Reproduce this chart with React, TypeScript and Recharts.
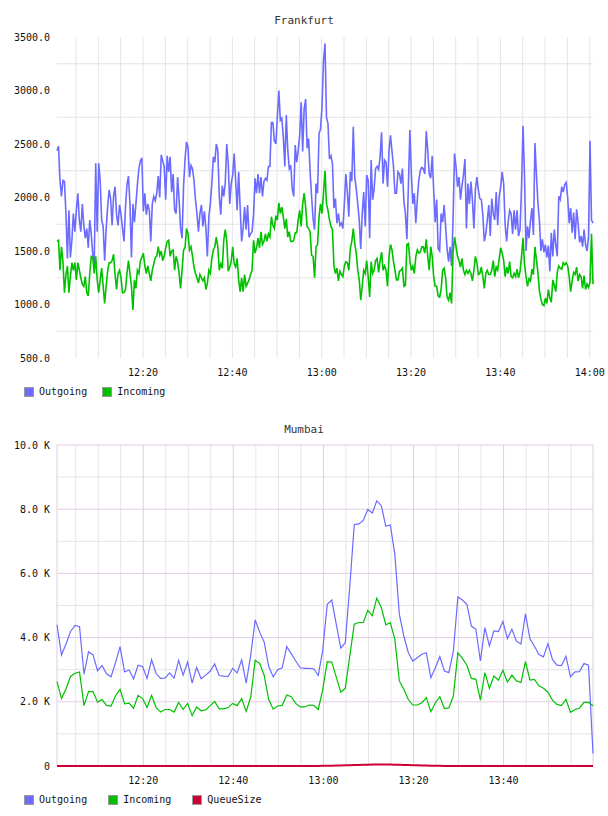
import React from 'react';
import { LineChart, Line, XAxis, YAxis, ReferenceLine } from 'recharts';

const FONT = '"DejaVu Sans Mono", monospace';
const OUT_COLOR = '#6b6bff';
const IN_COLOR = '#00c000';
const QUEUE_COLOR = '#cc0033';
const GRID = '#e4e4e4';
const GRID_MAJOR = '#e0cce4';

// Frankfurt: one sample every 20 s, minutes after 12:00
const FRANKFURT_START = 0.74;
const FRANKFURT_STEP = 1 / 3;

const FRANKFURT_OUTGOING = [
  // 12:00 - 12:25
  2440, 2480, 2160, 2010, 2160, 2150, 1850, 1430, 1880, 1440,
  1600, 1850, 1680, 1880, 2040, 1790, 1680, 1940, 1740, 1620,
  1710, 1530, 1790, 1660, 1470, 1380, 2320, 1680, 2320, 2160,
  1790, 1730, 1410, 1700, 1910, 2070, 1990, 1740, 2010, 2100,
  1840, 1740, 1930, 1840, 1710, 1590, 1910, 2120, 2200, 1940,
  1440, 1940, 1770, 1940, 2120, 2270, 2340, 2370, 1870, 2040,
  1840, 1940, 1880, 1590, 1940, 2010, 1970, 2040, 2200, 2000,
  2400, 2340, 2290,
  // 12:25 - 12:51
  1980, 2390, 2240, 2380, 2050, 2220, 1880, 1850, 2190, 1980,
  1710, 1620, 2100, 2360, 2520, 2470, 2190, 2300, 2270, 2160,
  1980, 1850, 1680, 1850, 1930, 1730, 1870, 1710, 1450, 1820,
  1940, 2130, 2380, 2330, 2500, 2440, 2010, 1840, 2110, 2010,
  2130, 2500, 2320, 1940, 2130, 2210, 2410, 2160, 1880, 2240,
  1910, 1590, 1710, 1910, 1700, 1930, 1630, 1660, 1680, 1840,
  2180, 2040, 2220, 2040, 2190, 2010, 2150, 2180, 2160, 2290,
  2290, 2700, 2700, 2530, 2500, 2750, 3000, 2720,
  // 12:51 - 13:17
  2740, 2570, 2290, 2770, 2440, 2270, 2300, 2080, 2010, 2490,
  2330, 2440, 2580, 2890, 2430, 2830, 2920, 2460, 2550, 2240,
  2010, 1800, 1700, 2130, 2040, 2600, 2640, 2850, 3280, 3440,
  2750, 2690, 2360, 2390, 2320, 1900, 1990, 1760, 1850, 1740,
  1760, 1710, 1940, 2220, 2050, 1820, 2240, 2150, 2660, 2190,
  2080, 1940, 1790, 1520, 1850, 2050, 1730, 2210, 2160, 1620,
  2350, 1980, 2080, 2270, 2290, 2260, 2380, 2610, 2130, 2350,
  2330, 2100, 2440, 2580, 2430, 2290, 2040, 2040,
  // 13:17 - 13:43
  2240, 2220, 2130, 2270, 1960, 1850, 1610, 2100, 2630, 2220,
  1940, 2040, 1760, 1980, 2160, 2250, 2280, 2270, 2220, 2620,
  2440, 2220, 2180, 2390, 2070, 1770, 1980, 1520, 1500, 1850,
  1770, 1930, 1730, 1520, 1400, 1540, 1360, 1790, 2410, 2290,
  2100, 2190, 1980, 2110, 2210, 2360, 1710, 2130, 1940, 2150,
  1980, 1710, 2070, 2190, 2070, 1990, 1980, 1840, 1590, 1660,
  1790, 1930, 1640, 1990, 1850, 1790, 2050, 1740, 2010, 2100,
  2240, 2130, 1740, 1590, 1770, 1880, 1850, 1660,
  // 13:43 - 14:00
  1880, 1700, 1880, 1640, 1700, 2100, 2670, 2200, 1500, 1730,
  1620, 1780, 1900, 1650, 2510, 2220, 1950, 1790, 1500, 1610,
  1490, 1560, 1440, 1550, 1310, 1670, 1450, 1700, 1560, 1450,
  2010, 1980, 2100, 2050, 2120, 2140, 2000, 1760, 1900, 1670,
  1860, 1610, 1890, 1760, 1580, 1640, 1540, 1700, 1560, 1500,
  1640, 2530, 1790, 1760,
];

const FRANKFURT_INCOMING = [
  // 12:00 - 12:25
  1590, 1600, 1320, 1540, 1400, 1110, 1280, 1360, 1110, 1260,
  1390, 1320, 1390, 1230, 1390, 1320, 1250, 1190, 1170, 1260,
  1110, 1080, 1290, 1450, 1440, 1290, 1450, 1230, 1110, 1230,
  1340, 1170, 1010, 1170, 1310, 1390, 1390, 1410, 1470, 1280,
  1140, 1290, 1320, 1250, 1110, 1110, 1140, 1290, 1410, 1290,
  1170, 950, 1230, 1150, 1320, 1290, 1410, 1440, 1480, 1360,
  1290, 1360, 1290, 1220, 1320, 1380, 1440, 1450, 1540, 1460,
  1500, 1410, 1450,
  // 12:25 - 12:51
  1530, 1590, 1600, 1450, 1500, 1510, 1320, 1450, 1400, 1290,
  1150, 1320, 1510, 1530, 1710, 1660, 1510, 1540, 1450, 1350,
  1290, 1250, 1200, 1280, 1250, 1220, 1250, 1140, 1200, 1320,
  1290, 1430, 1510, 1540, 1630, 1540, 1320, 1380, 1340, 1600,
  1700, 1600, 1310, 1350, 1400, 1540, 1380, 1350, 1430, 1230,
  1120, 1250, 1120, 1280, 1170, 1200, 1230, 1280, 1320, 1600,
  1480, 1530, 1620, 1530, 1680, 1560, 1590, 1660, 1590, 1660,
  1630, 1820, 1740, 1710, 1830, 1790, 1950, 1850,
  // 12:51 - 13:17
  1910, 1820, 1710, 1800, 1630, 1680, 1590, 1590, 1600, 1670,
  1670, 1790, 1880, 1730, 1940, 2040, 1910, 1730, 1710, 1680,
  1460, 1450, 1250, 1540, 1560, 1820, 1940, 1850, 2040, 2250,
  1940, 1880, 1790, 1730, 1700, 1360, 1290, 1340, 1220, 1310,
  1280, 1260, 1360, 1400, 1390, 1320, 1520, 1590, 1710, 1570,
  1480, 1320, 1230, 1040, 1170, 1320, 1290, 1410, 1260, 1070,
  1400, 1290, 1320, 1410, 1430, 1300, 1410, 1490, 1320, 1360,
  1320, 1170, 1450, 1560, 1510, 1400, 1320, 1230,
  // 13:17 - 13:43
  1230, 1310, 1320, 1340, 1170, 1180, 1560, 1570, 1410, 1320,
  1360, 1290, 1450, 1510, 1480, 1490, 1540, 1540, 1480, 1610,
  1450, 1320, 1540, 1450, 1260, 1170, 1170, 1080, 1070, 1140,
  1320, 1340, 1250, 1070, 1040, 1110, 1010, 1480, 1630, 1540,
  1450, 1410, 1350, 1430, 1320, 1280, 1320, 1290, 1320, 1290,
  1220, 1320, 1450, 1390, 1280, 1290, 1350, 1260, 1150, 1290,
  1320, 1280, 1280, 1320, 1410, 1260, 1350, 1320, 1430, 1530,
  1480, 1410, 1260, 1350, 1290, 1400, 1260, 1250,
  // 13:43 - 14:00
  1290, 1260, 1330, 1250, 1310, 1450, 1620, 1380, 1260, 1170,
  1240, 1220, 1330, 1280, 1540, 1420, 1300, 1130, 1050, 1000,
  990, 1060, 1010, 1140, 1060, 1020, 1230, 1180, 1120, 1300,
  1360, 1340, 1330, 1390, 1370, 1390, 1360, 1260, 1120, 1220,
  1300, 1280, 1350, 1220, 1280, 1260, 1150, 1270, 1140, 1190,
  1160, 1210, 1660, 1190,
];

const FRANKFURT_Y_TICKS = [500, 1000, 1500, 2000, 2500, 3000, 3500];
const FRANKFURT_Y_GRID = [750, 1250, 1750, 2250, 2750, 3250];

// Mumbai: one sample per minute
const MUMBAI_START = 0.85;
const MUMBAI_STEP = 1;

const MUMBAI_OUTGOING = [
  4400, 3460, 3800, 4190, 4380, 4340, 2860, 3560, 3460, 2970,
  3130, 2870, 2780, 3220, 3720, 2930, 2990, 2710, 3140, 3100,
  2730, 3310, 2880, 2730, 2740, 2900, 2740, 3290, 2830, 3240,
  2580, 3070, 2720, 2830, 2950, 3180, 2820, 2800, 2790, 3040,
  2900, 3310, 2580, 3440, 4550, 4170, 3860, 3100, 2780, 3000,
  3060, 3720, 3500, 3270, 3060, 3040, 3040, 3030, 2820, 3610,
  5040, 5170, 4420, 3670, 3840, 5600, 7520, 7540, 7650, 7990,
  7880, 8260, 8110, 7470, 7510, 6600, 4730, 4050, 3530, 3270,
  3370, 3480, 3530, 2750, 3060, 3410, 2960, 2910, 3580, 5270,
  5170, 5040, 4360, 4260, 3270, 4310, 3740, 4210, 4190, 4500,
  3970, 4260, 3890, 3800, 4740, 3960, 3730, 3470, 3400, 3810,
  3320, 3140, 3130, 3420, 2780, 2930, 2940, 3190, 3140, 390,
];

const MUMBAI_INCOMING = [
  2630, 2100, 2400, 2790, 2890, 2930, 1880, 2320, 2320, 1990,
  2070, 1890, 1870, 2190, 2390, 1940, 1960, 1800, 2200, 2100,
  1820, 2200, 1820, 1680, 1760, 1760, 1680, 1980, 1760, 1950,
  1570, 1840, 1720, 1750, 1880, 2010, 1780, 1780, 1820, 1950,
  1880, 2100, 1700, 2140, 3290, 3200, 2820, 2070, 1770, 1870,
  1890, 2210, 2160, 1950, 1840, 1840, 1900, 1890, 1760, 2390,
  3250, 3240, 2770, 2300, 2420, 3430, 4420, 4470, 4470, 4850,
  4680, 5230, 4940, 4400, 4470, 3950, 2650, 2390, 2070, 1900,
  1900, 1970, 2130, 1690, 1970, 2160, 1790, 1810, 2180, 3530,
  3350, 3140, 2730, 2700, 2050, 2910, 2420, 2800, 2670, 2980,
  2610, 2830, 2650, 2600, 3250, 2680, 2700, 2500, 2420, 2300,
  2050, 1920, 1880, 2080, 1670, 1760, 1800, 1980, 1980, 1880,
];

const MUMBAI_QUEUE = [
  0, 0, 0, 0, 0, 0, 0, 0, 0, 0,
  0, 0, 0, 0, 0, 0, 0, 0, 0, 0,
  0, 0, 0, 0, 0, 0, 0, 0, 0, 0,
  0, 0, 0, 0, 0, 0, 0, 0, 0, 0,
  0, 0, 0, 0, 0, 0, 0, 0, 0, 0,
  0, 0, 0, 0, 0, 0, 0, 0, 2, 4,
  7, 10, 14, 18, 22, 27, 31, 35, 38, 41,
  43, 44, 45, 44, 43, 41, 38, 35, 31, 27,
  22, 18, 14, 10, 7, 4, 2, 0, 0, 0,
  0, 0, 0, 0, 0, 0, 0, 0, 0, 0,
  0, 0, 0, 0, 0, 0, 0, 0, 0, 0,
  0, 0, 0, 0, 0, 0, 0, 0, 0, 0,
];

const MUMBAI_Y_TICKS = [0, 2000, 4000, 6000, 8000, 10000];
const MUMBAI_Y_MINOR = [1000, 3000, 5000, 7000, 9000];

const TIME_TICKS = [20, 40, 60, 80, 100, 120];
const MUMBAI_TIME_TICKS = [20, 40, 60, 80, 100];
const FIVE_MIN = [
  5, 10, 15, 20, 25, 30, 35, 40, 45, 50, 55, 60,
  65, 70, 75, 80, 85, 90, 95, 100, 105, 110, 115, 120,
];

const frankfurtData = FRANKFURT_OUTGOING.map((v, i) => ({
  t: FRANKFURT_START + i * FRANKFURT_STEP,
  outgoing: v,
  incoming: FRANKFURT_INCOMING[i],
}));
const FRANKFURT_END = frankfurtData[frankfurtData.length - 1].t;

const mumbaiData = MUMBAI_OUTGOING.map((v, i) => ({
  t: MUMBAI_START + i * MUMBAI_STEP,
  outgoing: v,
  incoming: MUMBAI_INCOMING[i],
  queue: MUMBAI_QUEUE[i],
}));
const MUMBAI_END = mumbaiData[mumbaiData.length - 1].t;

const fmtTime = (t: number) => {
  const h = 12 + Math.floor(t / 60);
  const m = Math.round(t % 60);
  return `${h}:${String(m).padStart(2, '0')}`;
};

const fmtK = (v: number) => (v === 0 ? '0' : `${(v / 1000).toFixed(1)} K`);

const tickStyle = { fontSize: 10, fill: '#111', fontFamily: FONT };

const LegendRow = ({ items, gap, top }: { items: { name: string; color: string }[]; gap: number; top: number }) => (
  <div
    style={{
      position: 'absolute',
      top,
      left: 24,
      display: 'flex',
      alignItems: 'center',
      fontFamily: FONT,
      fontSize: 10,
      color: '#111',
      lineHeight: '10px',
    }}
  >
    {items.map((it) => (
      <div key={it.name} style={{ display: 'flex', alignItems: 'center', marginRight: gap }}>
        <span style={{ width: 8, height: 8, background: it.color, border: '1px solid #999', display: 'inline-block' }} />
        <span style={{ marginLeft: 5 }}>{it.name}</span>
      </div>
    ))}
  </div>
);

const Title = ({ text, top }: { text: string; top: number }) => (
  <div
    style={{
      position: 'absolute',
      top,
      left: 0,
      width: 608,
      textAlign: 'center',
      fontFamily: FONT,
      fontSize: 11,
      lineHeight: '13px',
      color: '#333',
    }}
  >
    {text}
  </div>
);

export default function App() {
  return (
    <div style={{ position: 'absolute', left: 0, top: 0, width: 608, height: 816, background: '#fff' }}>
      <Title text="Frankfurt" top={14} />
      <div style={{ position: 'absolute', left: 0, top: 0 }}>
        <LineChart width={608} height={380} data={frankfurtData} margin={{ top: 37, right: 15, bottom: 0, left: 0 }}>
          <XAxis
            dataKey="t"
            type="number"
            domain={[FRANKFURT_START, FRANKFURT_END]}
            ticks={TIME_TICKS}
            tickFormatter={fmtTime}
            interval={0}
            axisLine={false}
            tickLine={false}
            tickSize={0}
            tickMargin={11}
            height={22}
            tick={tickStyle}
          />
          <YAxis
            type="number"
            domain={[500, 3500]}
            ticks={FRANKFURT_Y_TICKS}
            tickFormatter={(v: number) => v.toFixed(1)}
            interval={0}
            axisLine={false}
            tickLine={false}
            tickSize={0}
            tickMargin={7}
            width={57}
            tick={tickStyle}
          />
          {FRANKFURT_Y_GRID.map((y) => (
            <ReferenceLine key={`h${y}`} y={y} stroke={GRID} strokeWidth={1} />
          ))}
          {FIVE_MIN.map((x) => (
            <ReferenceLine key={`v${x}`} x={x} stroke={GRID} strokeWidth={1} />
          ))}
          <Line
            dataKey="outgoing"
            stroke={OUT_COLOR}
            strokeWidth={1.6}
            dot={false}
            type="linear"
            isAnimationActive={false}
          />
          <Line
            dataKey="incoming"
            stroke={IN_COLOR}
            strokeWidth={1.6}
            dot={false}
            type="linear"
            isAnimationActive={false}
          />
        </LineChart>
      </div>
      <LegendRow
        top={387}
        gap={15}
        items={[
          { name: 'Outgoing', color: OUT_COLOR },
          { name: 'Incoming', color: IN_COLOR },
        ]}
      />

      <Title text="Mumbai" top={423} />
      <div style={{ position: 'absolute', left: 0, top: 408 }}>
        <LineChart width={608} height={380} data={mumbaiData} margin={{ top: 37, right: 15, bottom: 0, left: 0 }}>
          <XAxis
            dataKey="t"
            type="number"
            domain={[MUMBAI_START, MUMBAI_END]}
            ticks={MUMBAI_TIME_TICKS}
            tickFormatter={fmtTime}
            interval={0}
            axisLine={false}
            tickLine={false}
            tickSize={0}
            tickMargin={11}
            height={22}
            tick={tickStyle}
          />
          <YAxis
            type="number"
            domain={[0, 10000]}
            ticks={MUMBAI_Y_TICKS}
            tickFormatter={fmtK}
            interval={0}
            axisLine={false}
            tickLine={false}
            tickSize={0}
            tickMargin={7}
            width={57}
            tick={tickStyle}
          />
          {MUMBAI_Y_MINOR.map((y) => (
            <ReferenceLine key={`hm${y}`} y={y} stroke={GRID} strokeWidth={1} />
          ))}
          {FIVE_MIN.filter((x) => x < MUMBAI_END && x % 20 !== 0).map((x) => (
            <ReferenceLine key={`vm${x}`} x={x} stroke={GRID} strokeWidth={1} />
          ))}
          {MUMBAI_Y_TICKS.filter((y) => y > 0).map((y) => (
            <ReferenceLine key={`hM${y}`} y={y} stroke={GRID_MAJOR} strokeWidth={1} />
          ))}
          {MUMBAI_TIME_TICKS.map((x) => (
            <ReferenceLine key={`vM${x}`} x={x} stroke={GRID_MAJOR} strokeWidth={1} />
          ))}
          <ReferenceLine x={MUMBAI_START} stroke={GRID_MAJOR} strokeWidth={1} />
          <ReferenceLine x={MUMBAI_END} stroke={GRID_MAJOR} strokeWidth={1} />
          <Line
            dataKey="outgoing"
            stroke={OUT_COLOR}
            strokeWidth={1.2}
            dot={false}
            type="linear"
            isAnimationActive={false}
          />
          <Line
            dataKey="incoming"
            stroke={IN_COLOR}
            strokeWidth={1.2}
            dot={false}
            type="linear"
            isAnimationActive={false}
          />
          <Line
            dataKey="queue"
            stroke={QUEUE_COLOR}
            strokeWidth={2}
            dot={false}
            type="linear"
            isAnimationActive={false}
          />
        </LineChart>
      </div>
      <LegendRow
        top={795}
        gap={21}
        items={[
          { name: 'Outgoing', color: OUT_COLOR },
          { name: 'Incoming', color: IN_COLOR },
          { name: 'QueueSize', color: QUEUE_COLOR },
        ]}
      />
    </div>
  );
}
